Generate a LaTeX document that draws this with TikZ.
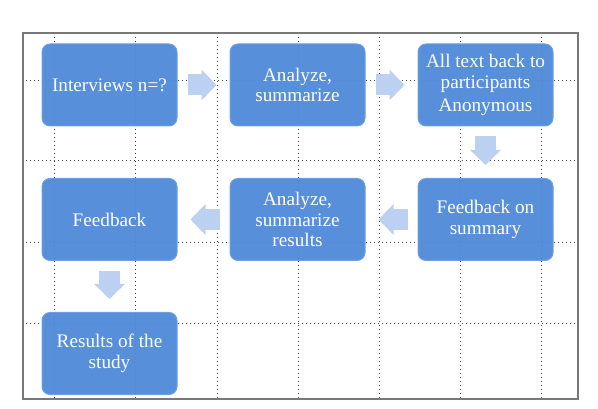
\documentclass[tikz,border=0pt]{standalone}
\usepackage{fontspec}
\setmainfont{Liberation Serif}
\usetikzlibrary{arrows.meta}
\definecolor{stepblue}{RGB}{76,136,216}
\definecolor{stepedge}{RGB}{110,160,225}
\definecolor{flowblue}{RGB}{188,208,242}
\definecolor{gridgray}{RGB}{70,70,70}
\definecolor{framegray}{RGB}{120,120,120}
\tikzset{
  stepbox/.style={draw=stepedge,line width=1pt,fill=stepblue,
                  fill opacity=0.94,text opacity=1,rounded corners=8pt,
                  minimum width=135pt,minimum height=82pt,align=center,
                  text=white,font=\fontsize{19.2}{20.5}\selectfont},
  flow/.style={flowblue,line width=21pt,
               -{Triangle[length=15pt,width=30pt]},
               shorten <=10pt,shorten >=13pt},
  gridln/.style={gridgray,line width=0.9pt,
                 dash pattern=on 0.9pt off 3.1pt},
}

\begin{document}
\begin{tikzpicture}[x=1pt,y=-1pt]
  \useasboundingbox (0,0) rectangle (598,409);
  % background grid
  \foreach \gx in {54,135,217,298,379,460,541}
    \draw[gridln] (\gx,37) -- (\gx,398);
  \foreach \gy in {80,160,242,323}
    \draw[gridln] (26,\gy) -- (577,\gy);
  \draw[framegray,line width=1.4pt] (23,33) rectangle (578,399);
  % steps
  \node[stepbox] (intv) at (109.5,85) {Interviews n=?};
  \node[stepbox] (anl1) at (297.5,85) {Analyze,\\summarize};
  \node[stepbox] (back) at (485.5,85)
       {All text back to\\participants\\[3pt]Anonymous};
  \node[stepbox] (fbsum) at (485.5,219.5) {Feedback on\\summary};
  \node[stepbox] (anl2) at (297.5,219.5) {Analyze,\\summarize\\results};
  \node[stepbox] (fb) at (109.5,219.5) {Feedback};
  \node[stepbox] (res) at (109.5,353.5) {Results of the\\study};
  % flow
  \draw[flow] (intv) -- (anl1);
  \draw[flow] (anl1) -- (back);
  \draw[flow] (back) -- (fbsum);
  \draw[flow] (fbsum) -- (anl2);
  \draw[flow] (anl2) -- (fb);
  \draw[flow] (fb) -- (res);
\end{tikzpicture}
\end{document}
